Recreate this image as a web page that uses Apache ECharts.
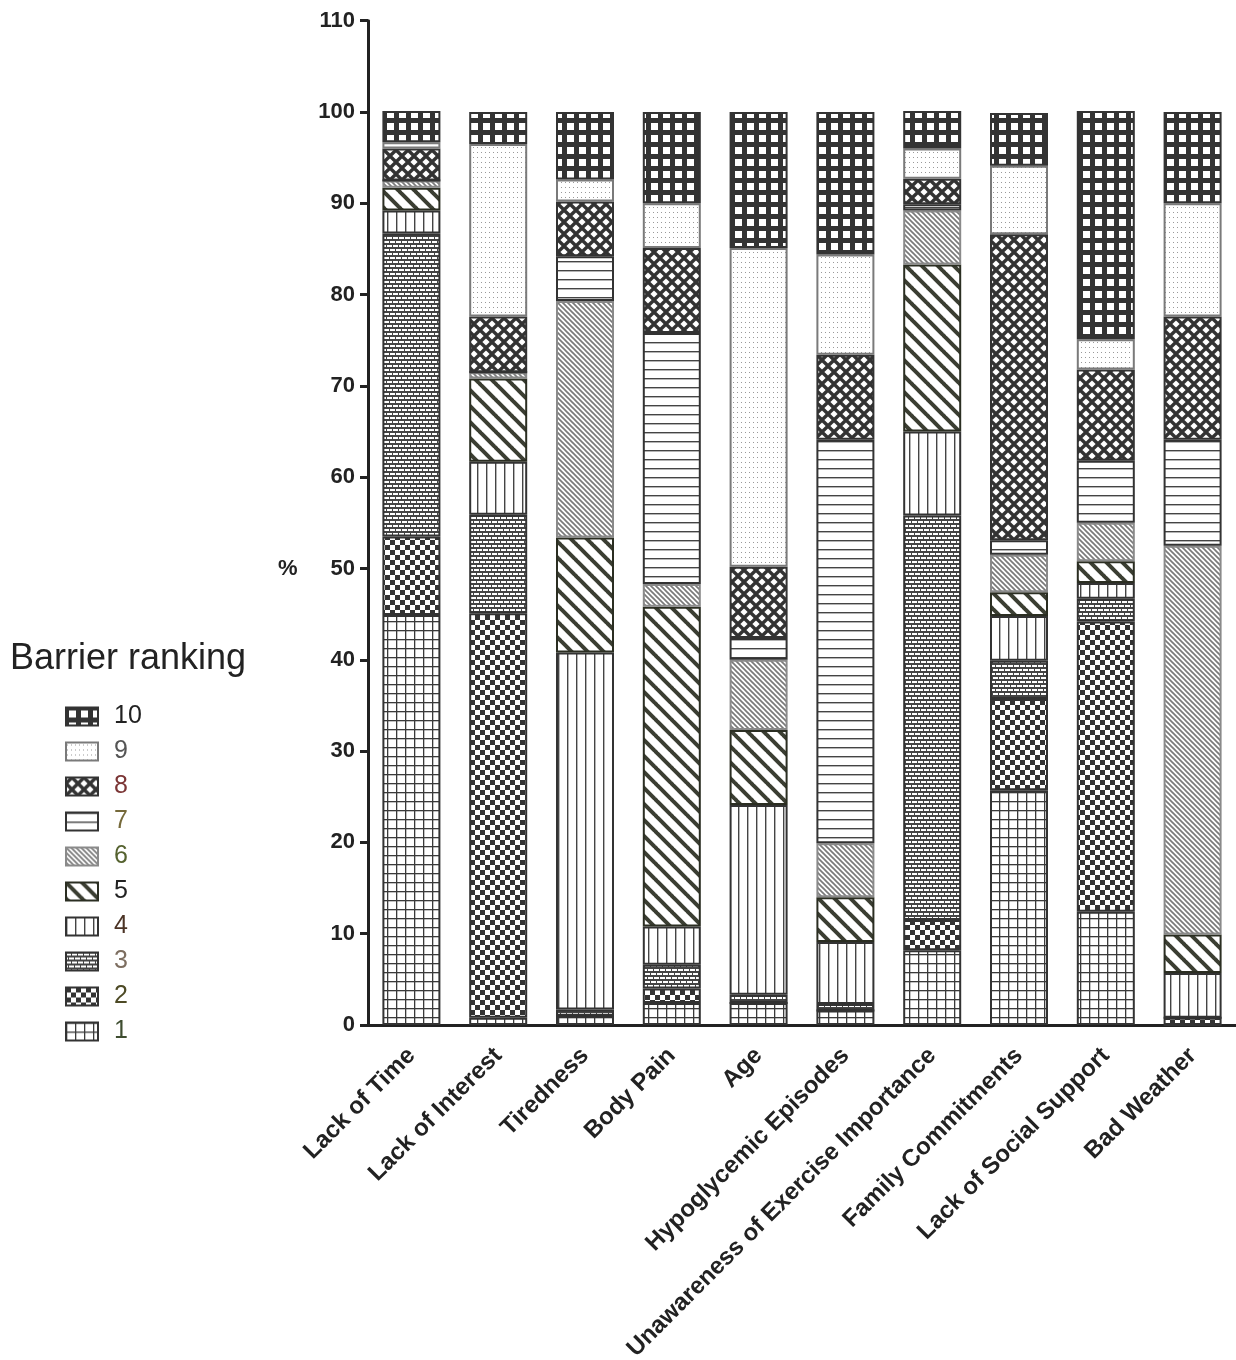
<!DOCTYPE html>
<html>
<head>
<meta charset="utf-8">
<script src="https://cdn.jsdelivr.net/npm/echarts@6/dist/echarts.min.js"></script>
<style>
  html, body { margin: 0; padding: 0; background: #fff; }
  #chart { width: 1236px; height: 1360px; }
</style>
</head>
<body>
<div id="chart"></div>
<script>
const categories = ['Lack of Time', 'Lack of Interest', 'Tiredness', 'Body Pain', 'Age',
  'Hypoglycemic Episodes', 'Unawareness of Exercise Importance', 'Family Commitments',
  'Lack of Social Support', 'Bad Weather']

const rankNames = ['1', '2', '3', '4', '5', '6', '7', '8', '9', '10']

// percent of respondents per barrier, one array per ranking
const rank1 = [44.9, 0.8, 1.0, 2.4, 2.4, 1.6, 8.2, 25.7, 12.4, 0]
const rank2 = [8.6, 44.3, 0, 1.6, 0, 0, 3.3, 10.0, 31.8, 0.8]
const rank3 = [33.2, 10.8, 0.7, 2.6, 0.9, 0.7, 44.3, 4.2, 2.5, 0]
const rank4 = [2.5, 5.8, 39.1, 4.2, 20.8, 6.8, 9.2, 4.9, 1.7, 4.9]
const rank5 = [2.5, 9.1, 12.6, 35.0, 8.2, 4.9, 18.3, 2.6, 2.4, 4.2]
const rank6 = [0.8, 0.7, 25.9, 2.5, 7.7, 5.9, 5.9, 4.1, 4.2, 42.6]
const rank7 = [0, 0, 4.9, 27.5, 2.4, 44.2, 0.7, 1.6, 6.8, 11.6]
const rank8 = [3.5, 6.1, 6.0, 9.3, 7.8, 9.3, 2.8, 33.5, 10.0, 13.5]
const rank9 = [0.7, 18.9, 2.4, 4.9, 34.9, 11.0, 3.3, 7.5, 3.3, 12.4]
const rank10 = [3.4, 3.5, 7.4, 10.0, 14.9, 15.6, 4.1, 5.8, 25.0, 10.0]

const rankData = [rank1, rank2, rank3, rank4, rank5, rank6, rank7, rank8, rank9, rank10]

const legendTextColors = ['#3e4d30', '#4d4a25', '#7d6e60', '#4b3325', '#222222',
  '#55622f', '#75693a', '#7b3535', '#555555', '#222222']

const yTicks = [0, 10, 20, 30, 40, 50, 60, 70, 80, 90, 100, 110]

const FONT = 'Liberation Sans, Arial, sans-serif'

function tile(w, h, draw) {
  const c = document.createElement('canvas')
  c.width = w
  c.height = h
  const ctx = c.getContext('2d')
  ctx.fillStyle = '#fff'
  ctx.fillRect(0, 0, w, h)
  draw(ctx)
  return { image: c, repeat: 'repeat' }
}

function diag(ctx, s, color, width) {
  ctx.strokeStyle = color
  ctx.lineWidth = width
  for (let k = -1; k <= 1; k++) {
    ctx.beginPath()
    ctx.moveTo(k * s - 1, -1)
    ctx.lineTo(k * s + s + 1, s + 1)
    ctx.stroke()
  }
}

const patterns = [
  // 1 grid
  tile(9, 9, ctx => {
    ctx.fillStyle = '#3a3a3a'
    ctx.fillRect(0, 0, 9, 1.3)
    ctx.fillRect(0, 0, 1.3, 9)
  }),
  // 2 checker
  tile(10, 10, ctx => {
    ctx.fillStyle = '#333'
    ctx.fillRect(0, 0, 5, 5)
    ctx.fillRect(5, 5, 5, 5)
  }),
  // 3 bricks
  tile(12, 8, ctx => {
    ctx.fillStyle = '#444'
    ctx.fillRect(0, 0, 12, 8)
    ctx.fillStyle = '#fff'
    ctx.fillRect(0, 1, 5, 2)
    ctx.fillRect(6, 1, 5, 2)
    ctx.fillRect(0, 5, 2, 2)
    ctx.fillRect(3, 5, 5, 2)
    ctx.fillRect(9, 5, 3, 2)
  }),
  // 4 vertical lines
  tile(9, 9, ctx => {
    ctx.fillStyle = '#444'
    ctx.fillRect(0, 0, 1.4, 9)
  }),
  // 5 wide diagonal stripes
  tile(16, 16, ctx => diag(ctx, 16, '#3b3e32', 4)),
  // 6 fine diagonal stripes
  tile(5, 5, ctx => diag(ctx, 5, '#7a7a7a', 1.7)),
  // 7 horizontal lines
  tile(9, 9, ctx => {
    ctx.fillStyle = '#444'
    ctx.fillRect(0, 0, 9, 1.4)
  }),
  // 8 diamond lattice
  tile(12, 12, ctx => {
    ctx.fillStyle = '#333'
    ctx.fillRect(0, 0, 12, 12)
    ctx.fillStyle = '#fff'
    const pts = [[0, 0], [12, 0], [0, 12], [12, 12], [6, 6]]
    pts.forEach(([x, y]) => {
      ctx.beginPath()
      ctx.moveTo(x, y - 3.6)
      ctx.lineTo(x + 3.6, y)
      ctx.lineTo(x, y + 3.6)
      ctx.lineTo(x - 3.6, y)
      ctx.closePath()
      ctx.fill()
    })
  }),
  // 9 dots
  tile(4, 5, ctx => {
    ctx.fillStyle = '#999'
    ctx.fillRect(1, 2, 1, 1)
  }),
  // 10 white squares on dark
  tile(12, 12, ctx => {
    ctx.fillStyle = '#333'
    ctx.fillRect(0, 0, 12, 12)
    ctx.fillStyle = '#fff'
    ctx.fillRect(3, 3, 7, 7)
  })
]

const borderColors = ['#333', '#333', '#333', '#333', '#2b2e22', '#8a8a8a', '#333', '#333', '#7a7a7a', '#333']

const series = rankNames.map((name, i) => ({
  name,
  type: 'bar',
  stack: 'total',
  barWidth: 58,
  data: rankData[i],
  itemStyle: {
    color: patterns[i],
    borderColor: borderColors[i],
    borderWidth: 2
  },
  emphasis: { disabled: true }
}))

const chart = echarts.init(document.getElementById('chart'))
chart.setOption({
  animation: false,
  textStyle: { fontFamily: FONT },
  title: {
    text: 'Barrier ranking',
    left: 5,
    top: 636,
    textStyle: { fontSize: 36, fontWeight: 'normal', color: '#222', fontFamily: FONT }
  },
  legend: {
    orient: 'vertical',
    left: 60,
    top: 699,
    itemWidth: 32,
    itemHeight: 18,
    itemGap: 10,
    icon: 'rect',
    selectedMode: false,
    data: rankNames.slice().reverse().map(n => ({
      name: n,
      textStyle: { color: legendTextColors[+n - 1] }
    })),
    textStyle: { fontSize: 25, padding: [0, 0, 0, 11], fontFamily: FONT }
  },
  grid: { left: 368, right: 0, top: 20.7, bottom: 335, outerBoundsMode: 'none', containLabel: false },
  xAxis: {
    type: 'category',
    data: categories,
    axisLine: { lineStyle: { color: '#222', width: 3 } },
    axisTick: { alignWithLabel: true, length: 8, lineStyle: { color: '#222', width: 3 } },
    axisLabel: {
      rotate: 45,
      interval: 0,
      margin: 27,
      fontSize: 24,
      fontWeight: 'bold',
      color: '#222',
      fontFamily: FONT
    }
  },
  yAxis: {
    type: 'value',
    min: yTicks[0],
    max: yTicks[yTicks.length - 1],
    interval: 10,
    splitLine: { show: false },
    axisLine: { show: true, lineStyle: { color: '#222', width: 3 } },
    axisTick: { show: true, length: 8, lineStyle: { color: '#222', width: 3 } },
    axisLabel: { fontSize: 22, fontWeight: 'bold', color: '#222', margin: 13, fontFamily: FONT }
  },
  graphic: [{
    type: 'text',
    left: 278,
    top: 558,
    style: { text: '%', fontSize: 22, fontWeight: 'bold', fill: '#222', fontFamily: FONT }
  }],
  series
})
</script>
</body>
</html>
